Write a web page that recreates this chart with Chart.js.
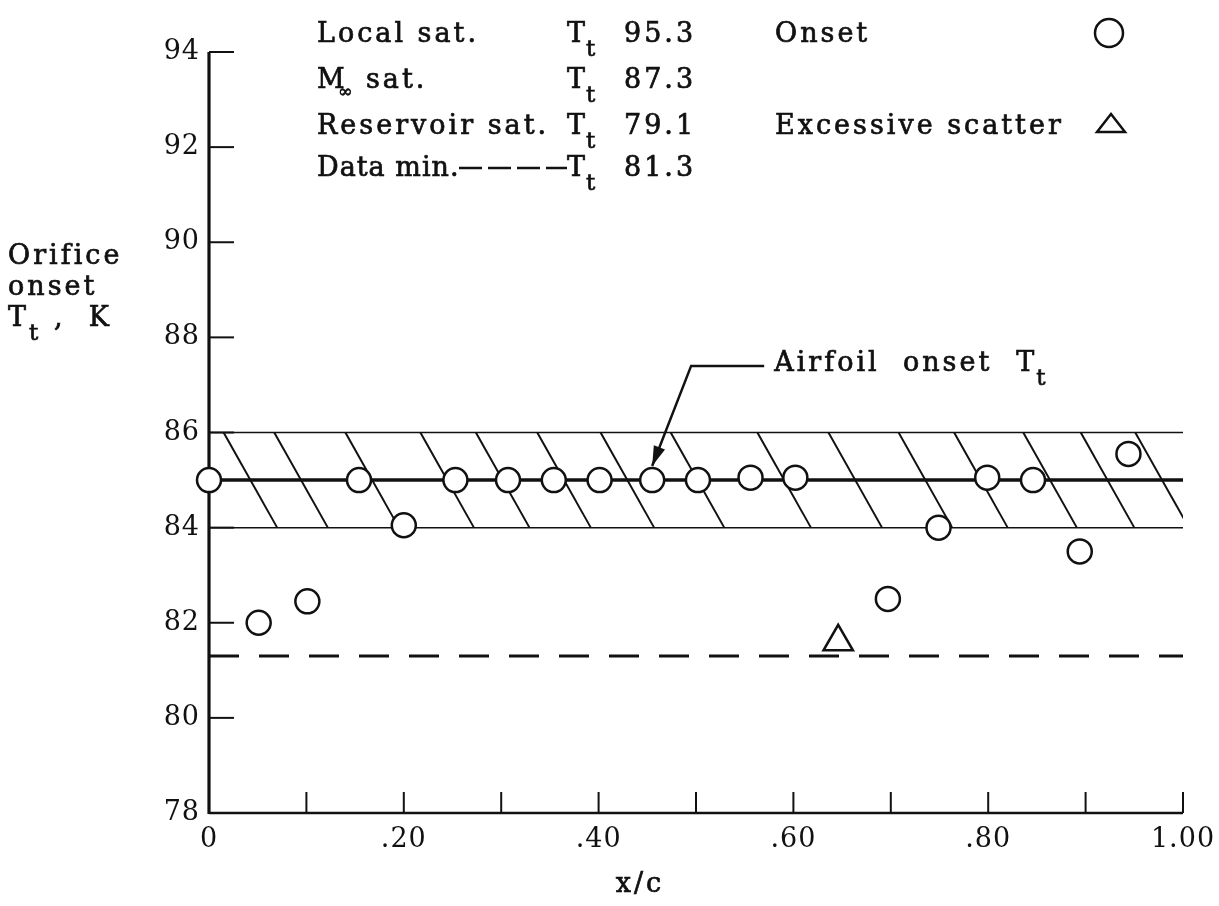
<!DOCTYPE html>
<html>
<head>
<meta charset="utf-8">
<script src="https://cdn.jsdelivr.net/npm/chart.js@4.4.0/dist/chart.umd.min.js"></script>
<style>
html, body { margin: 0; padding: 0; background: #ffffff; }
#wrap { width: 1219px; height: 906px; }
</style>
</head>
<body>
<div id="wrap"><canvas id="lienzo" width="1219" height="906"></canvas></div>
<script>
// ---- data ----
var onsetX = [0, 0.051, 0.101, 0.154, 0.200, 0.253, 0.307, 0.354, 0.401, 0.455, 0.502, 0.556, 0.602, 0.697, 0.749, 0.799, 0.846, 0.894, 0.944];
var onsetT = [85.0, 82.0, 82.45, 85.0, 84.05, 85.0, 85.0, 85.0, 85.0, 85.0, 85.0, 85.05, 85.05, 82.5, 84.0, 85.05, 85.0, 83.5, 85.55];

var scatterX = [0.646];
var scatterT = [81.6];

var airfoilOnsetT = 85.0;
var bandT = [84.0, 86.0];
var dataMinT = 81.3;

// hand drawn hatching: x/c where each stroke leaves the top of the band
var hatchTops = [0.015, 0.067, 0.140, 0.217, 0.274, 0.337, 0.402, 0.474, 0.563, 0.636, 0.708, 0.765, 0.836, 0.895, 0.951];
var hatchRun = 0.055;

var xTickVals = [0, 0.2, 0.4, 0.6, 0.8, 1.0];
var xTickLbls = ['0', '.20', '.40', '.60', '.80', '1.00'];
var xMinorTicks = [0.1, 0.2, 0.3, 0.4, 0.5, 0.6, 0.7, 0.8, 0.9, 1.0];
var yTickVals = [78, 80, 82, 84, 86, 88, 90, 92, 94];

var satNames = ['Local sat.', 'M', 'Reservoir sat.', 'Data min.'];
var satTemps = ['95.3', '87.3', '79.1', '81.3'];

var ink = '#111111';
var serif = '"DejaVu Serif", "Liberation Serif", serif';

function pts(xs, ys) {
	return xs.map(function(x, i){ return { x: x, y: ys[i] }; });
}

function hline(v) {
	return [{ x: 0, y: v }, { x: 1, y: v }];
}

var datasets = [];

datasets.push({
	label: 'Onset',
	data: pts(onsetX, onsetT),
	pointStyle: 'circle',
	pointRadius: 12,
	pointBorderWidth: 2.5,
	pointBorderColor: ink,
	pointBackgroundColor: '#ffffff',
	showLine: false,
	clip: false
});

datasets.push({
	label: 'Excessive scatter',
	data: pts(scatterX, scatterT),
	pointStyle: 'triangle',
	pointRadius: 17,
	pointBorderWidth: 2.5,
	pointBorderColor: ink,
	pointBackgroundColor: '#ffffff',
	showLine: false,
	clip: false
});

datasets.push({
	label: 'Airfoil onset',
	data: hline(airfoilOnsetT),
	showLine: true,
	borderColor: ink,
	borderWidth: 3.5,
	pointRadius: 0
});

datasets.push({
	label: 'Data min.',
	data: hline(dataMinT),
	showLine: true,
	borderColor: ink,
	borderWidth: 3,
	borderDash: [30, 20],
	pointRadius: 0
});

bandT.forEach(function(v){
	datasets.push({
		label: 'band',
		data: hline(v),
		showLine: true,
		borderColor: ink,
		borderWidth: 1.5,
		pointRadius: 0
	});
});

hatchTops.forEach(function(x0){
	datasets.push({
		label: 'hatch',
		data: [{ x: x0, y: bandT[1] }, { x: x0 + hatchRun, y: bandT[0] }],
		showLine: true,
		borderColor: ink,
		borderWidth: 2,
		pointRadius: 0
	});
});


function line(ctx, x1, y1, x2, y2) {
	ctx.beginPath();
	ctx.moveTo(x1, y1);
	ctx.lineTo(x2, y2);
	ctx.stroke();
}

// filled + lightly stroked text, the scan is heavier than a plain serif
function txt(ctx, s, x, y, size) {
	ctx.font = (size || 27) + 'px ' + serif;
	ctx.lineWidth = 0.7;
	ctx.fillText(s, x, y);
	ctx.strokeText(s, x, y);
}

var paper = {
	id: 'paper',
	beforeDraw: function(chart){
		chart.ctx.letterSpacing = '1px';
	},
	beforeDatasetsDraw: function(chart){
		var ctx = chart.ctx, a = chart.chartArea;
		var xs = chart.scales.x, ys = chart.scales.y;
		ctx.save();
		ctx.strokeStyle = ink;
		ctx.lineWidth = 3.2;
		line(ctx, a.left, a.top, a.left, a.bottom + 1);
		ctx.lineWidth = 2.5;
		line(ctx, a.left, a.bottom, a.right, a.bottom);
		ctx.lineWidth = 2;
		yTickVals.forEach(function(v){
			if (v === 78) return;
			var y = ys.getPixelForValue(v);
			line(ctx, a.left, y, a.left + 25, y);
		});
		xMinorTicks.forEach(function(v){
			var x = xs.getPixelForValue(v);
			line(ctx, x, a.bottom, x, a.bottom - 21);
		});
		ctx.restore();
	},
	afterDraw: function(chart){
		var ctx = chart.ctx;
		var xs = chart.scales.x, ys = chart.scales.y;
		ctx.save();
		ctx.fillStyle = ink;
		ctx.strokeStyle = ink;
		ctx.textBaseline = 'alphabetic';
		ctx.textAlign = 'left';
		ctx.letterSpacing = '3px';

		// key at top
		var rows = [42, 88, 134, 176];
		satNames.forEach(function(n, i){
			var y = rows[i];
			if (i === 1) {
				txt(ctx, 'M', 317, y);
				txt(ctx, '\u221e', 338, y + 9, 17);
				txt(ctx, 'sat.', 366, y);
			} else if (i === 3) {
				ctx.letterSpacing = '1px';
				txt(ctx, n, 317, y);
				ctx.letterSpacing = '3px';
			} else {
				txt(ctx, n, 317, y);
			}
			txt(ctx, 'T', 567, y);
			txt(ctx, 't', 586, y + 14, 23);
			txt(ctx, satTemps[i], 624, y);
		});
		// dashed sample for Data min.
		ctx.lineWidth = 2.5;
		ctx.setLineDash([23, 6]);
		line(ctx, 459, rows[3] - 8, 567, rows[3] - 8);
		ctx.setLineDash([]);

		txt(ctx, 'Onset', 775, rows[0]);
		txt(ctx, 'Excessive scatter', 775, rows[2]);
		ctx.lineWidth = 2.5;
		ctx.beginPath();
		ctx.arc(1109, rows[0] - 9, 14, 0, Math.PI * 2);
		ctx.stroke();
		ctx.beginPath();
		ctx.moveTo(1111, rows[2] - 20);
		ctx.lineTo(1125, rows[2] - 2);
		ctx.lineTo(1097, rows[2] - 2);
		ctx.closePath();
		ctx.stroke();

		// y axis title
		txt(ctx, 'Orifice', 8, 264);
		txt(ctx, 'onset', 8, 295);
		txt(ctx, 'T', 8, 326);
		txt(ctx, 't', 29, 340, 23);
		txt(ctx, ',  K', 54, 326);

		// x axis title
		ctx.textAlign = 'center';
		txt(ctx, 'x/c', 640, 892);
		ctx.textAlign = 'left';

		// airfoil onset leader with arrow
		var ly = ys.getPixelForValue(87.4);
		var lx0 = xs.getPixelForValue(0.495);
		var lx1 = xs.getPixelForValue(0.57);
		var tx = xs.getPixelForValue(0.455);
		var ty = ys.getPixelForValue(85.0) - 14;
		ctx.lineWidth = 2.5;
		ctx.beginPath();
		ctx.moveTo(lx1, ly);
		ctx.lineTo(lx0, ly);
		ctx.lineTo(tx, ty);
		ctx.stroke();
		var ang = Math.atan2(ty - ly, tx - lx0);
		ctx.beginPath();
		ctx.moveTo(tx, ty);
		ctx.lineTo(tx - 20 * Math.cos(ang) + 6 * Math.sin(ang), ty - 20 * Math.sin(ang) - 6 * Math.cos(ang));
		ctx.lineTo(tx - 20 * Math.cos(ang) - 6 * Math.sin(ang), ty - 20 * Math.sin(ang) + 6 * Math.cos(ang));
		ctx.closePath();
		ctx.fill();
		txt(ctx, 'Airfoil  onset', lx1 + 10, ly + 5);
		txt(ctx, 'T', lx1 + 252, ly + 5);
		txt(ctx, 't', lx1 + 272, ly + 19, 23);
		ctx.restore();
	}
};

var chart = new Chart(document.getElementById('lienzo'), {
	type: 'scatter',
	data: { datasets: datasets },
	options: {
		responsive: false,
		animation: false,
		events: [],
		layout: { padding: { top: 52, right: 36, left: 0, bottom: 0 } },
		plugins: {
			legend: { display: false },
			tooltip: { enabled: false }
		},
		scales: {
			x: {
				type: 'linear',
				min: 0,
				max: 1,
				grid: { display: false, drawTicks: false },
				border: { display: false },
				afterBuildTicks: function(s){ s.ticks = xTickVals.map(function(v){ return { value: v }; }); },
				afterFit: function(s){ s.height = 93; s.paddingRight = 0; },
				ticks: {
					autoSkip: false,
					maxRotation: 0,
					padding: 11,
					color: ink,
					font: { family: serif, size: 27 },
					callback: function(v, i){ return xTickLbls[i]; }
				}
			},
			y: {
				type: 'linear',
				min: 78,
				max: 94,
				grid: { display: false, drawTicks: false },
				border: { display: false },
				afterBuildTicks: function(s){ s.ticks = yTickVals.map(function(v){ return { value: v }; }); },
				afterFit: function(s){ s.width = 209; },
				ticks: {
					autoSkip: false,
					padding: 9,
					color: ink,
					font: { family: serif, size: 27 },
					callback: function(v){ return String(v); }
				}
			}
		}
	},
	plugins: [paper]
});
</script>
</body>
</html>
